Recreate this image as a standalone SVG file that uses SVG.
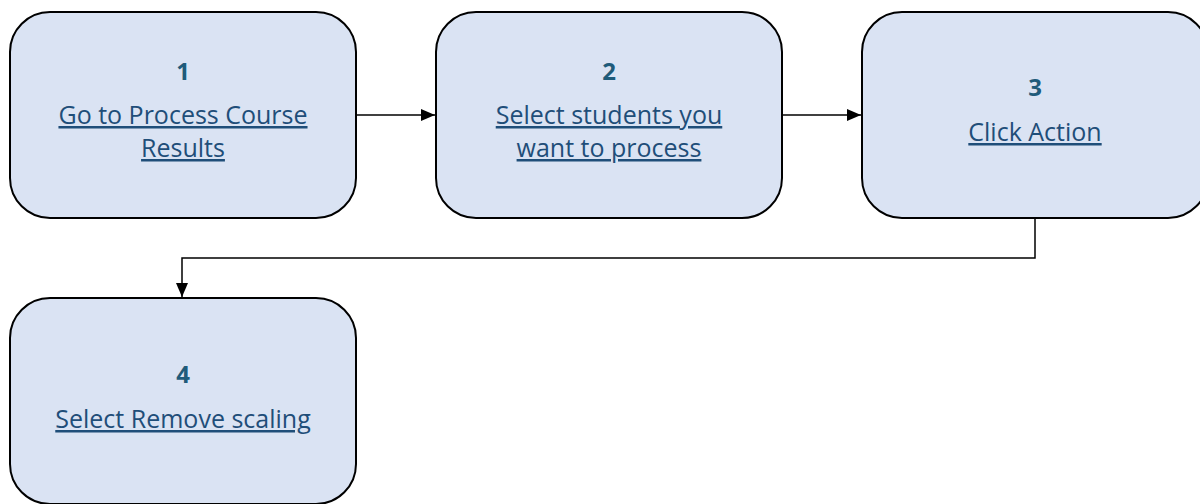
<svg xmlns="http://www.w3.org/2000/svg" width="1200" height="504" viewBox="0 0 1200 504">
<defs>
<style>
.box{fill:#DAE3F3;stroke:#000;stroke-width:2}
.num{font-family:"Open Sans","Liberation Sans",sans-serif;font-weight:bold;font-size:24px;fill:#1F5B7A;text-anchor:middle}
.lbl{font-family:"Open Sans","Liberation Sans",sans-serif;font-size:25px;fill:#1F4E79;text-anchor:middle;text-decoration:underline}
.con{fill:none;stroke:#000;stroke-width:1.5}
</style>
<marker id="ah" markerWidth="14" markerHeight="12" refX="14" refY="6" orient="auto" markerUnits="userSpaceOnUse" viewBox="0 0 14 12">
<path d="M0,0 L14,6 L0,12 Z" fill="#000"/>
</marker>
</defs>
<rect width="1200" height="504" fill="#fff"/>
<g id="connectors">
<line class="con" x1="356" y1="115" x2="435" y2="115" marker-end="url(#ah)"/>
<line class="con" x1="782" y1="115" x2="861" y2="115" marker-end="url(#ah)"/>
<polyline class="con" points="1035,218 1035,258 182,258 182,297" marker-end="url(#ah)"/>
</g>
<g id="node1">
<rect class="box" x="10" y="12" width="346" height="206" rx="40"/>
<text class="num" x="183" y="80">1</text>
<text class="lbl" x="183" y="124">Go to Process Course</text>
<text class="lbl" x="183" y="157">Results</text>
</g>
<g id="node2">
<rect class="box" x="436" y="12" width="346" height="206" rx="40"/>
<text class="num" x="609" y="80">2</text>
<text class="lbl" x="609" y="124">Select students you</text>
<text class="lbl" x="609" y="157">want to process</text>
</g>
<g id="node3">
<rect class="box" x="862" y="12" width="346" height="206" rx="40"/>
<text class="num" x="1035" y="96">3</text>
<text class="lbl" x="1035" y="141">Click Action</text>
</g>
<g id="node4">
<rect class="box" x="10" y="298" width="346" height="206" rx="40"/>
<text class="num" x="183" y="383">4</text>
<text class="lbl" x="183" y="428">Select Remove scaling</text>
</g>
</svg>
